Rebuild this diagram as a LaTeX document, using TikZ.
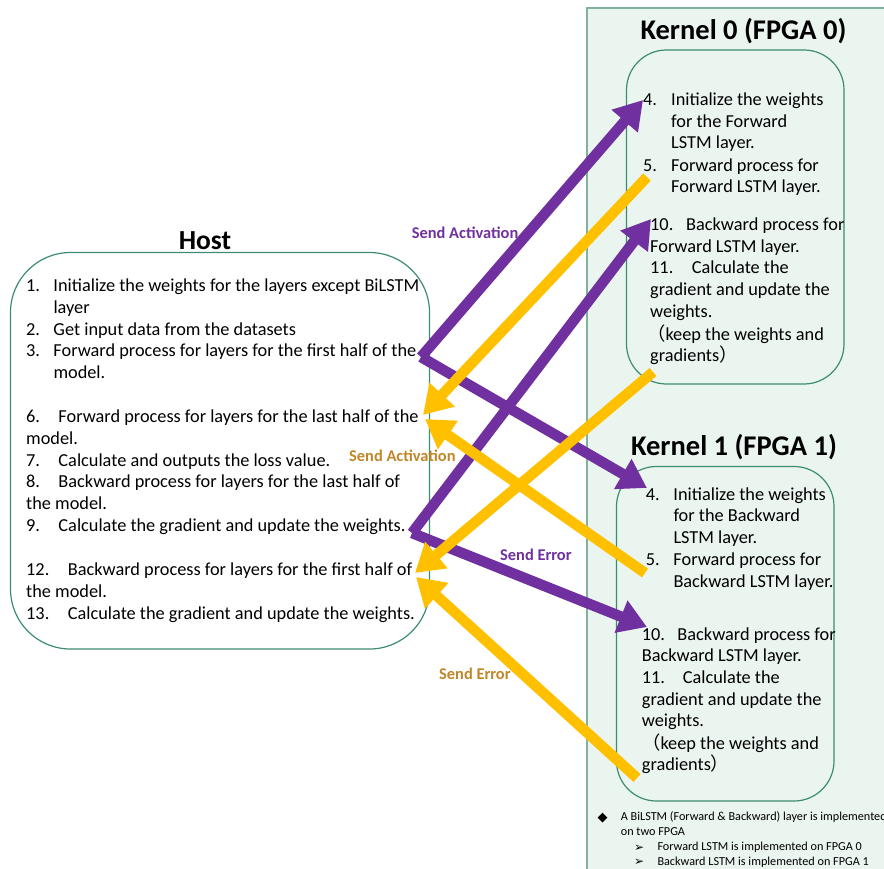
\documentclass[tikz,border=0pt]{standalone}
\usepackage{fontspec}
\setmainfont{Carlito}
\newfontfamily\cjkfont{Noto Sans CJK JP}
\newfontfamily\symfont{DejaVu Sans}
\usetikzlibrary{arrows.meta}

\definecolor{panelfill}{RGB}{234,245,240}
\definecolor{panelline}{RGB}{128,178,158}
\definecolor{boxline}{RGB}{60,140,110}
\definecolor{sendpurple}{RGB}{112,48,160}
\definecolor{sendyellow}{RGB}{255,192,0}
\definecolor{labelgold}{RGB}{192,134,40}

% fixed-width box for the item numbers
\newcommand\numbox[2]{\makebox[#1pt][l]{#2}}

\tikzset{
  ln/.style={anchor=base west, inner sep=0pt, font=\fontsize{18.3}{22}\selectfont},
  title/.style={anchor=base, inner sep=0pt, font=\fontsize{28.5}{32}\selectfont\bfseries},
  note/.style={anchor=base west, inner sep=0pt, font=\fontsize{12.2}{14}\selectfont},
  sendlabel/.style={anchor=base west, inner sep=0pt, font=\fontsize{16.4}{19}\selectfont\bfseries},
  stepbox/.style={draw=boxline, line width=1.2pt, rounded corners=#1},
  purplearrow/.style={draw=sendpurple, line width=10.5pt, line cap=butt,
    -{Triangle[length=28pt,width=33pt]}},
  yellowarrow/.style={draw=sendyellow, line width=10.5pt, line cap=butt,
    -{Triangle[length=28pt,width=33pt]}},
}

\begin{document}
\begin{tikzpicture}[x=1pt,y=-1pt]
\useasboundingbox (0,0) rectangle (884,869);

% FPGA side panel
\fill[panelfill] (587,8) rectangle (900,880);
\draw[panelline, line width=2pt] (900,8) -- (587,8) -- (587,880);

% boxes
\draw[stepbox=60pt] (10.5,252.5) rectangle (429.5,649);
\draw[stepbox=40pt, fill=panelfill] (626.5,50) rectangle (844,384);
\draw[stepbox=40pt, fill=panelfill] (616.5,466.5) rectangle (834,801);

% titles
\node[title, font=\fontsize{27.5}{32}\selectfont\bfseries] (hosttitle) at (205,250) {Host};
\node[title] (k0title) at (743.5,40) {Kernel 0 (FPGA 0)};
\node[title] (k1title) at (734,455) {Kernel 1 (FPGA 1)};

% host steps
\foreach \y/\x/\t [count=\i] in {
  291.7/26/{\numbox{27.3}{1.}Initialize the weights for the layers except BiLSTM},
  313.4/53.3/{layer},
  335.1/26/{\numbox{27.3}{2.}Get input data from the datasets},
  356.8/26/{\numbox{27.3}{3.}Forward process for layers for the first half of the},
  378.5/53.3/{model.},
  422.7/26/{\numbox{32.3}{6.}Forward process for layers for the last half of the},
  444.4/26/{model.},
  466.1/26/{\numbox{32.3}{7.}Calculate and outputs the loss value.},
  487.8/26/{\numbox{32.3}{8.}Backward process for layers for the last half of},
  509.5/26/{the model.},
  531.2/26/{\numbox{32.3}{9.}Calculate the gradient and update the weights.},
  575.6/26/{\numbox{41.7}{12.}Backward process for layers for the first half of},
  597.3/26/{the model.},
  619.0/26/{\numbox{41.7}{13.}Calculate the gradient and update the weights.}
}{
  \node[ln] (host-\i) at (\x,\y) {\t};
}

% kernel 0 steps
\foreach \y/\x/\t [count=\i] in {
  106/643/{\numbox{28}{4.}Initialize the weights},
  127.5/671/{for the Forward},
  149/671/{LSTM layer.},
  171.5/643/{\numbox{28}{5.}Forward process for},
  193/671/{Forward LSTM layer.},
  231/650/{\numbox{36}{10.}Backward process for},
  252.5/650/{Forward LSTM layer.},
  274/650/{\numbox{41.7}{11.}Calculate the},
  296/650/{gradient and update the},
  317.5/650/{weights.},
  340/647/{{\cjkfont （}keep the weights and},
  361.5/650/{gradients{\cjkfont ）}}
}{
  \node[ln] (kzero-\i) at (\x,\y) {\t};
}

% kernel 1 steps
\foreach \y/\x/\t [count=\i] in {
  500/645.7/{\numbox{27.6}{4.}Initialize the weights},
  521.7/673.3/{for the Backward},
  543.3/673.3/{LSTM layer.},
  565.7/645.7/{\numbox{27.6}{5.}Forward process for},
  587.3/673.3/{Backward LSTM layer.},
  640/641.7/{\numbox{35.6}{10.}Backward process for},
  661.7/641.7/{Backward LSTM layer.},
  683.3/641.7/{\numbox{41}{11.}Calculate the},
  705.7/641.7/{gradient and update the},
  726.7/641.7/{weights.},
  749.3/642/{{\cjkfont （}keep the weights and},
  770.7/641.7/{gradients{\cjkfont ）}}
}{
  \node[ln] (kone-\i) at (\x,\y) {\t};
}

% footnote
\node[note] (fn-a) at (597.5,821.5) {{\symfont\fontsize{13}{14}\selectfont ◆}};
\node[note] (fn-b) at (620.7,820.7) {A BiLSTM (Forward \& Backward) layer is implemented};
\node[note] (fn-c) at (620.7,835.7) {on two FPGA};
\node[note] (fn-d) at (634,851.5) {{\symfont\fontsize{12}{14}\selectfont ➢}};
\node[note] (fn-e) at (657.3,850.7) {Forward LSTM is implemented on FPGA 0};
\node[note] (fn-f) at (634,865.8) {{\symfont\fontsize{12}{14}\selectfont ➢}};
\node[note] (fn-g) at (657.3,865) {Backward LSTM is implemented on FPGA 1};

% connector end points
\coordinate (fwdout) at (421,357);
\coordinate (bwdout) at (412,533);
\coordinate (kzin-a) at (643,100);
\coordinate (koin-a) at (647,488);
\coordinate (kzin-b) at (651,219);
\coordinate (koin-b) at (647,627);
\coordinate (kzout-a) at (647,177);
\coordinate (kzout-b) at (653,372);
\coordinate (koout-a) at (645,573);
\coordinate (koout-b) at (637,778);
\coordinate (hostin-a) at (423,415);
\coordinate (hostin-b) at (425,419);
\coordinate (hostin-c) at (415,573);
\coordinate (hostin-d) at (416,577);

% host -> kernels
\draw[purplearrow] (fwdout) -- (kzin-a);
\draw[purplearrow] (fwdout) -- (koin-a);
\draw[purplearrow] (bwdout) -- (kzin-b);
\draw[purplearrow] (bwdout) -- (koin-b);

% kernels -> host
\draw[yellowarrow] (kzout-a) -- (hostin-a);
\draw[yellowarrow] (koout-a) -- (hostin-b);
\draw[yellowarrow] (kzout-b) -- (hostin-c);
\draw[yellowarrow] (koout-b) -- (hostin-d);

% connector labels
\node[sendlabel, text=sendpurple] (lbl-act-p) at (411.7,238.3) {Send Activation};
\node[sendlabel, text=labelgold] (lbl-act-g) at (349,461.7) {Send Activation};
\node[sendlabel, text=sendpurple] (lbl-err-p) at (500,560.7) {Send Error};
\node[sendlabel, text=labelgold] (lbl-err-g) at (439,679.3) {Send Error};
\end{tikzpicture}
\end{document}
